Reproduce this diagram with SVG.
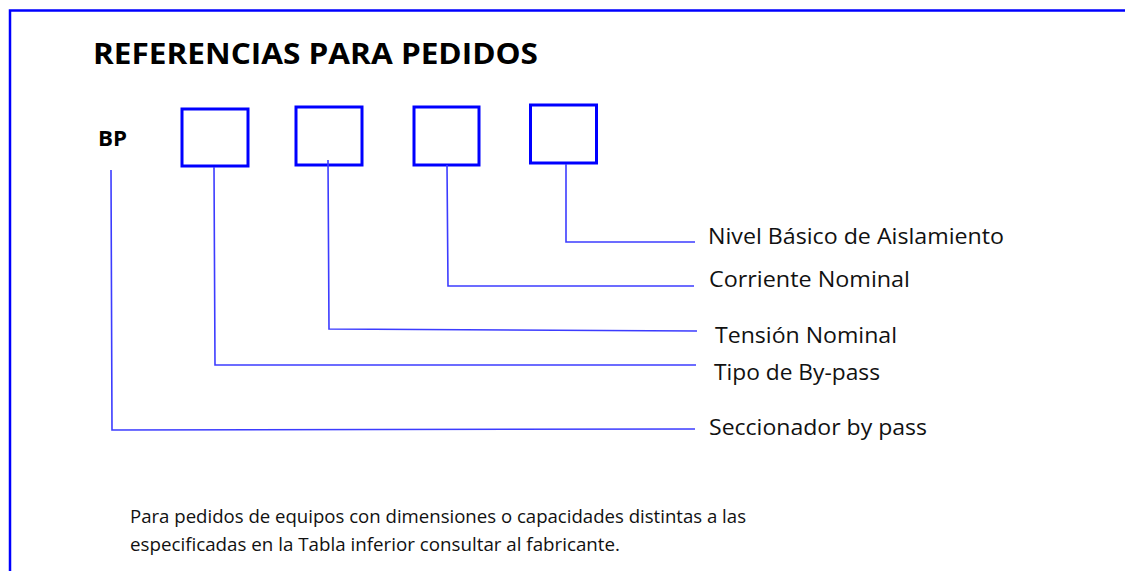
<svg xmlns="http://www.w3.org/2000/svg" width="1125" height="571" viewBox="0 0 1125 571">
<style>
.frame{fill:none;stroke:#0000ff;stroke-width:2.5}
.box{fill:none;stroke:#0000ff;stroke-width:3}
.conn{fill:none;stroke:#3c3cff;stroke-width:1.6}
.lbl{font-family:"Open Sans","Liberation Sans",sans-serif;font-size:21px;fill:#111}
.title{font-family:"Open Sans","Liberation Sans",sans-serif;font-size:29px;font-weight:bold;fill:#000}
.bp{font-family:"Open Sans","Liberation Sans",sans-serif;font-size:21px;font-weight:bold;fill:#000}
.note{font-family:"Open Sans","Liberation Sans",sans-serif;font-size:18px;fill:#111}
</style>
<rect width="1125" height="571" fill="#fff"/>
<path class="frame" d="M10,571 V10.5 H1125"/>
<text class="title" x="93" y="64" textLength="445" lengthAdjust="spacingAndGlyphs">REFERENCIAS PARA PEDIDOS</text>
<g id="bp"><text class="bp" x="98" y="146" textLength="29" lengthAdjust="spacingAndGlyphs">BP</text></g>
<g id="box1"><rect class="box" x="182" y="109" width="66" height="57"/></g>
<g id="box2"><rect class="box" x="296" y="107" width="66" height="58"/></g>
<g id="box3"><rect class="box" x="414" y="107" width="65" height="58"/></g>
<g id="box4"><rect class="box" x="530.5" y="105" width="66" height="58"/></g>
<g id="connectors">
<polyline class="conn" points="111,170 112,430 695,429"/>
<polyline class="conn" points="214,167 215,365 696,365"/>
<polyline class="conn" points="328,160 329,329 697,331"/>
<polyline class="conn" points="447,165 448,286 694,286"/>
<polyline class="conn" points="566,164 566,242 695,242"/>
</g>
<g id="label-nivel"><text class="lbl" x="708" y="244" textLength="296" lengthAdjust="spacingAndGlyphs">Nivel Básico de Aislamiento</text></g>
<g id="label-corriente"><text class="lbl" x="709" y="287" textLength="201" lengthAdjust="spacingAndGlyphs">Corriente Nominal</text></g>
<g id="label-tension"><text class="lbl" x="715" y="343" textLength="182" lengthAdjust="spacingAndGlyphs">Tensión Nominal</text></g>
<g id="label-tipo"><text class="lbl" x="714" y="380" textLength="166" lengthAdjust="spacingAndGlyphs">Tipo de By-pass</text></g>
<g id="label-seccionador"><text class="lbl" x="709" y="435" textLength="218" lengthAdjust="spacingAndGlyphs">Seccionador by pass</text></g>
<text class="note" x="130" y="523" textLength="616" lengthAdjust="spacingAndGlyphs">Para pedidos de equipos con dimensiones o capacidades distintas a las</text>
<text class="note" x="130" y="551" textLength="490" lengthAdjust="spacingAndGlyphs">especificadas en la Tabla inferior consultar al fabricante.</text>
</svg>
